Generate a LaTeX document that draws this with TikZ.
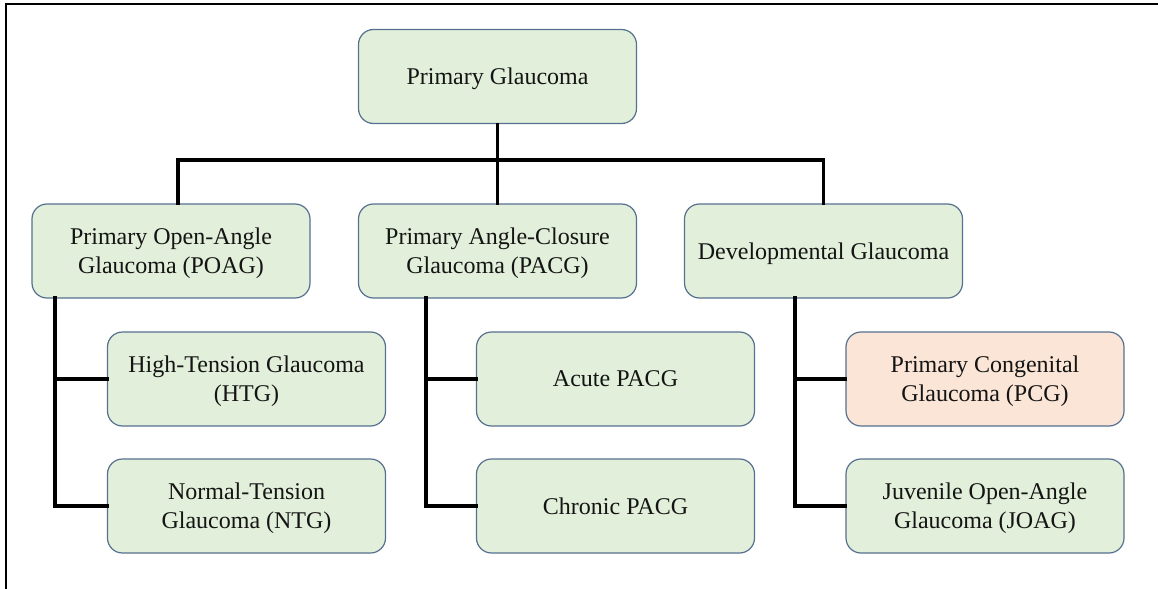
\documentclass[tikz,border=0pt]{standalone}
\usepackage{fontspec}
\setmainfont{Liberation Serif}
\definecolor{boxgreen}{HTML}{E2EFDA}
\definecolor{boxpeach}{HTML}{FBE5D6}
\definecolor{boxline}{HTML}{56708F}
\definecolor{txt}{HTML}{141414}
\tikzset{
  gbox/.style={rectangle, rounded corners=7.5pt, draw=boxline, line width=0.6pt,
    fill=boxgreen, minimum width=139pt, minimum height=47pt, inner sep=0pt,
    text depth=0pt, align=center, text=txt, font=\fontsize{12}{14.5}\selectfont},
  pbox/.style={gbox, fill=boxpeach},
  conn/.style={line width=1.6pt, black, line cap=rect},
  frameline/.style={line width=1pt, black}
}
\begin{document}
\begin{tikzpicture}[x=0.5pt,y=-0.5pt]
\useasboundingbox (0,0) rectangle (1158,589);
\coordinate (fa) at (6,589);
\coordinate (fb) at (6,4);
\coordinate (fc) at (1158,4);
\draw[frameline] (fa) -- (fb) -- (fc);

\node[gbox] (top) at (497.5,76.5) {Primary Glaucoma};
\node[gbox] (poag) at (171,251) {Primary Open-Angle\\Glaucoma (POAG)};
\node[gbox] (pacg) at (497.5,251) {Primary Angle-Closure\\Glaucoma (PACG)};
\node[gbox] (dev) at (823.5,251) {Developmental Glaucoma};

\node[gbox] (htg) at (246.5,379) {High-Tension Glaucoma\\(HTG)};
\node[gbox] (ntg) at (246.5,506) {Normal-Tension\\Glaucoma (NTG)};
\node[gbox] (acute) at (615.5,379) {Acute PACG};
\node[gbox] (chronic) at (615.5,506) {Chronic PACG};
\node[pbox] (pcg) at (985,379) {Primary Congenital\\Glaucoma (PCG)};
\node[gbox] (joag) at (985,506) {Juvenile Open-Angle\\Glaucoma (JOAG)};

% level 1 -> level 2
\coordinate (bus) at (497.5,160);
\draw[conn] (top.south) -- (bus);
\draw[conn] (poag.north -| 178,0) |- (bus) -| (dev.north);
\draw[conn] (bus) -- (pacg.north);

% POAG children
\coordinate (pv) at (55,298);
\draw[conn] (pv) |- (ntg.west);
\draw[conn] (htg.west) -- (htg.west -| pv);
% PACG children
\coordinate (av) at (426,298);
\draw[conn] (av) |- (chronic.west);
\draw[conn] (acute.west) -- (acute.west -| av);
% Developmental children
\coordinate (dv) at (795,298);
\draw[conn] (dv) |- (joag.west);
\draw[conn] (pcg.west) -- (pcg.west -| dv);
\end{tikzpicture}
\end{document}
